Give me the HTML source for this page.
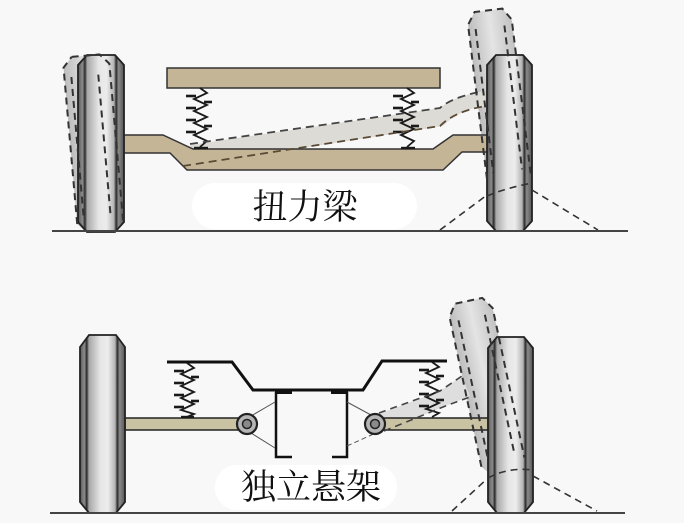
<!DOCTYPE html>
<html>
<head>
<meta charset="utf-8">
<style>
html,body{margin:0;padding:0;background:#f8f8f8;}
svg{display:block;}
</style>
</head>
<body>
<svg width="684" height="523" viewBox="0 0 684 523" xmlns="http://www.w3.org/2000/svg">
<defs>
<linearGradient id="wg" x1="0" y1="0" x2="1" y2="0">
<stop offset="0" stop-color="#5a5a5a"/>
<stop offset="0.1" stop-color="#8c8c8c"/>
<stop offset="0.15" stop-color="#2a2a2a"/>
<stop offset="0.2" stop-color="#a8a8a8"/>
<stop offset="0.45" stop-color="#e6e6e6"/>
<stop offset="0.62" stop-color="#ececec"/>
<stop offset="0.78" stop-color="#b4b4b4"/>
<stop offset="0.83" stop-color="#2a2a2a"/>
<stop offset="0.88" stop-color="#8a8a8a"/>
<stop offset="1" stop-color="#555"/>
</linearGradient>
<linearGradient id="gg" x1="0" y1="0" x2="1" y2="0">
<stop offset="0" stop-color="#bdbdbd"/>
<stop offset="0.5" stop-color="#e4e4e4"/>
<stop offset="1" stop-color="#c2c2c2"/>
</linearGradient>
</defs>

<rect width="684" height="523" fill="#f8f8f8"/>

<!-- ================= TOP : torsion beam ================= -->
<g transform="rotate(-5 101 232)">
<path d="M87,55 L115,55 L124,65 L124,222 L115,232 L87,232 L78,222 L78,65 Z" fill="url(#gg)"/>
</g>
<g transform="translate(510,186) rotate(-7)">
<path d="M-14,-177 L14,-177 L22,-165 L22,-10 L14,0 L-14,0 L-22,-10 L-22,-165 Z" fill="url(#gg)"/>
</g>

<path d="M190,145 L440,108 Q452,97 484,91 L486,106 Q458,110 443,126 L183,167 Z" fill="#dddbd5"/>

<rect x="167" y="68" width="273" height="20" fill="#c4b596" stroke="#333" stroke-width="1.5"/>

<path d="M122,135 L163,135 L193,149 L433,149 L453,135 L489,135 L489,152 L462,152 L443,170 L187,170 L170,153 L122,153 Z" fill="#c4b596" stroke="#333" stroke-width="1.5"/>

<g stroke="#1a1a1a" fill="none">
<polyline points="200,88 207,93 194,99 207,105 194,111 207,117 194,123 207,129 194,135 207,141 200,147" stroke-width="1.8"/>
<g stroke-width="2.6">
<line x1="186" y1="96" x2="196" y2="96"/><line x1="186" y1="108" x2="196" y2="108"/><line x1="186" y1="120" x2="196" y2="120"/><line x1="186" y1="132" x2="196" y2="132"/><line x1="204" y1="102" x2="212" y2="102"/><line x1="204" y1="126" x2="212" y2="126"/>
</g>
<polyline points="407,88 414,93 401,99 414,105 401,111 414,117 401,123 414,129 401,135 414,141 407,147" stroke-width="1.8"/>
<g stroke-width="2.6">
<line x1="393" y1="96" x2="403" y2="96"/><line x1="393" y1="108" x2="403" y2="108"/><line x1="393" y1="120" x2="403" y2="120"/><line x1="393" y1="132" x2="403" y2="132"/><line x1="411" y1="102" x2="419" y2="102"/><line x1="411" y1="126" x2="419" y2="126"/>
</g>
<line x1="194" y1="148" x2="208" y2="148" stroke-width="2.4"/>
<line x1="401" y1="148" x2="415" y2="148" stroke-width="2.4"/>
</g>

<g stroke="#444" stroke-width="1.8" fill="none" stroke-dasharray="8 5">
<path d="M190,144 L440,108 Q452,97 484,91"/>
<path d="M183,166 L440,126 Q455,111 486,106" stroke="#5a4a35"/>
</g>

<path d="M87,55 L115,55 L124,65 L124,222 L115,232 L87,232 L78,222 L78,65 Z" fill="url(#wg)" stroke="#222" stroke-width="1.8"/>
<path d="M496,55 L523,55 L532,65 L532,221 L523,231 L496,231 L487,221 L487,65 Z" fill="url(#wg)" stroke="#222" stroke-width="1.8"/>

<g transform="rotate(-5 101 232)" stroke="#333" stroke-width="2" fill="none" stroke-dasharray="7 5">
<path d="M87,55 L115,55 L124,65 L124,222 M78,222 L78,65 L87,55"/>
<line x1="85" y1="75" x2="85" y2="215"/>
<line x1="112" y1="75" x2="112" y2="215"/>
</g>
<g transform="translate(510,186) rotate(-7)" stroke="#333" stroke-width="2" fill="none" stroke-dasharray="7 5">
<path d="M-22,-10 L-22,-165 L-14,-177 L14,-177 L22,-165 L22,-10"/>
<line x1="-15" y1="-160" x2="-15" y2="-15"/>
<line x1="14" y1="-160" x2="14" y2="-15"/>
</g>
<g stroke="#333" stroke-width="1.6" fill="none" stroke-dasharray="7 5">
<line x1="440" y1="230" x2="487" y2="195"/>
<line x1="532" y1="190" x2="598" y2="230"/>
<path d="M487,196 Q506,188 532,183"/>
</g>

<rect x="192" y="183" width="225" height="46" rx="23" fill="#ffffff"/>
<text x="305" y="219" font-family="'Liberation Serif','Noto Serif CJK SC',serif" font-size="35" text-anchor="middle" fill="#111">扭力梁</text>

<line x1="52" y1="231" x2="628" y2="231" stroke="#444" stroke-width="2"/>

<!-- ================= BOTTOM : independent ================= -->
<g transform="translate(505,472) rotate(-12)">
<path d="M-14,-175 L14,-175 L22,-163 L22,-10 L14,0 L-14,0 L-22,-10 L-22,-163 Z" fill="url(#gg)"/>
</g>
<path d="M379,414 L440,391 L462,376 L470,396 L448,405 L384,431 Z" fill="#dedede"/>

<polyline points="167,362 232,362 253,390 363,390 382,361 447,361" fill="none" stroke="#111" stroke-width="3"/>
<rect x="275" y="389" width="17" height="5" fill="#111"/>
<rect x="331" y="389" width="17" height="5" fill="#111"/>
<polyline points="276,392 276,457 292,457" fill="none" stroke="#111" stroke-width="2.5"/>
<polyline points="347,392 347,457 332,457" fill="none" stroke="#111" stroke-width="2.5"/>

<g stroke="#555" stroke-width="1" fill="none">
<line x1="251" y1="416" x2="275" y2="402"/>
<line x1="251" y1="433" x2="275" y2="448"/>
<line x1="347" y1="402" x2="371" y2="415"/>
</g>
<line x1="347" y1="446" x2="378" y2="432" stroke="#555" stroke-width="1" stroke-dasharray="5 3"/>

<rect x="125" y="418" width="123" height="12" fill="#c9c3a4" stroke="#222" stroke-width="1.5"/>
<rect x="375" y="418" width="113" height="12" fill="#c9c3a4" stroke="#222" stroke-width="1.5"/>

<circle cx="247" cy="424" r="10" fill="#b5b5b5" stroke="#222" stroke-width="2.2"/>
<circle cx="247" cy="424" r="4.5" fill="#8a8a8a" stroke="#222" stroke-width="1.5"/>
<circle cx="375" cy="424" r="10" fill="#b5b5b5" stroke="#222" stroke-width="2.2"/>
<circle cx="375" cy="424" r="4.5" fill="#8a8a8a" stroke="#222" stroke-width="1.5"/>

<g stroke="#1a1a1a" fill="none">
<polyline points="187,363 194,368 181,374 194,380 181,386 194,392 181,398 194,404 181,410 194,414 187,417" stroke-width="1.8"/>
<g stroke-width="2.6">
<line x1="174" y1="371" x2="184" y2="371"/><line x1="174" y1="383" x2="184" y2="383"/><line x1="174" y1="395" x2="184" y2="395"/><line x1="174" y1="407" x2="184" y2="407"/><line x1="191" y1="377" x2="199" y2="377"/><line x1="191" y1="401" x2="199" y2="401"/>
</g>
<polyline points="432,362 439,367 426,373 439,379 426,385 439,391 426,397 439,403 426,409 439,413 432,417" stroke-width="1.8"/>
<g stroke-width="2.6">
<line x1="419" y1="370" x2="429" y2="370"/><line x1="419" y1="382" x2="429" y2="382"/><line x1="419" y1="394" x2="429" y2="394"/><line x1="419" y1="406" x2="429" y2="406"/><line x1="436" y1="376" x2="444" y2="376"/><line x1="436" y1="400" x2="444" y2="400"/>
</g>
<line x1="181" y1="417" x2="194" y2="417" stroke-width="2.4"/>
</g>

<g stroke="#444" stroke-width="1.6" fill="none" stroke-dasharray="7 5">
<path d="M379,413 L440,391 L462,376"/>
<path d="M384,431 L448,405 L470,397"/>
</g>

<path d="M89,335 L116,335 L125,347 L125,502 L116,513 L89,513 L80,502 L80,347 Z" fill="url(#wg)" stroke="#222" stroke-width="1.8"/>
<path d="M497,337 L524,337 L533,348 L533,502 L524,513 L497,513 L488,502 L488,348 Z" fill="url(#wg)" stroke="#222" stroke-width="1.8"/>

<g transform="translate(505,472) rotate(-12)" stroke="#333" stroke-width="2" fill="none" stroke-dasharray="7 5">
<path d="M-22,-10 L-22,-163 L-14,-175 L14,-175 L22,-163 L22,-10"/>
<line x1="-14" y1="-158" x2="-14" y2="-15"/>
<line x1="13" y1="-158" x2="13" y2="-15"/>
</g>
<g stroke="#333" stroke-width="1.6" fill="none" stroke-dasharray="7 5">
<line x1="452" y1="511" x2="488" y2="478"/>
<line x1="533" y1="476" x2="597" y2="511"/>
<path d="M488,478 Q508,467 533,470"/>
</g>

<rect x="215" y="465" width="182" height="45" rx="22" fill="#ffffff"/>
<text x="311" y="499" font-family="'Liberation Serif','Noto Serif CJK SC',serif" font-size="35" text-anchor="middle" fill="#111">独立悬架</text>

<line x1="50" y1="513" x2="625" y2="513" stroke="#444" stroke-width="2"/>
</svg>
</body>
</html>
